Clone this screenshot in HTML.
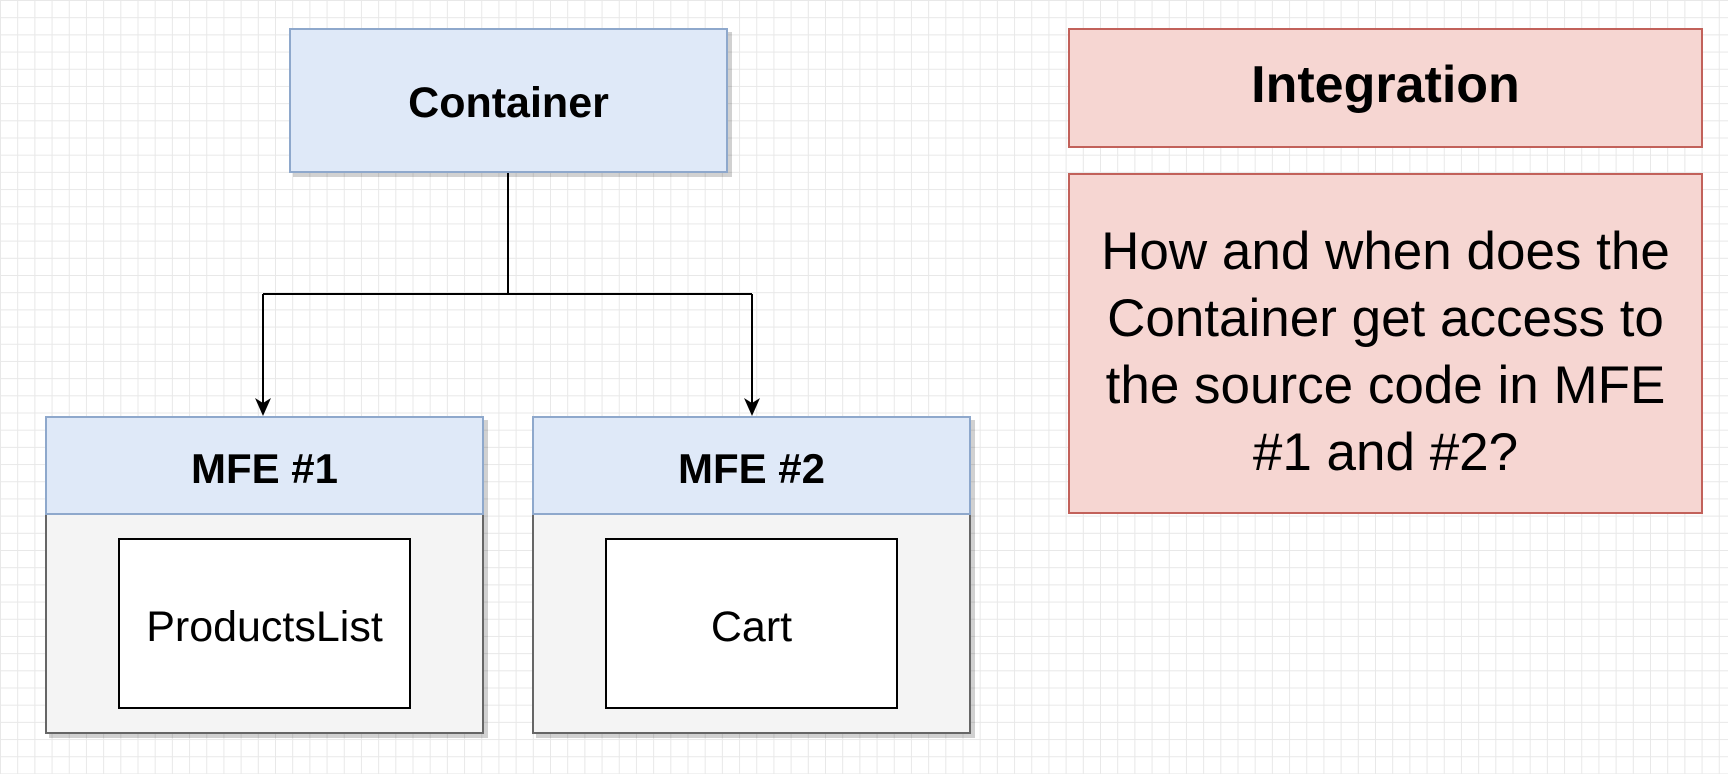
<!DOCTYPE html>
<html><head><style>
body{margin:0;width:1728px;height:774px;overflow:hidden;background:#fff;
background-image:linear-gradient(#e8e8e8 1px,transparent 1px),linear-gradient(90deg,#e8e8e8 1px,transparent 1px);
background-size:17.2px 17.2px;font-family:"Liberation Sans",sans-serif;position:relative}
.b{position:absolute;box-sizing:border-box;display:flex;align-items:center;justify-content:center;text-align:center;color:#000}
.blue{background:#dfe9f8;border:2px solid #8ea8cc;box-shadow:4px 4px 0 rgba(0,0,0,.18)}
.gray{background:#f4f4f4;border:2px solid #666;box-shadow:4px 4px 0 rgba(0,0,0,.18)}
.red{background:#f6d6d2;border:2px solid #c2615a}
.w{background:#fff;border:2px solid #000;font-size:43px;padding-top:8px}
</style></head><body>
<div class="b blue" style="left:289px;top:28px;width:439px;height:145px;font-weight:bold;font-size:43px;padding-top:6px">Container</div>
<svg style="position:absolute;left:0;top:0" width="1728" height="774">
<path d="M508 173V294M263 294H752M263 294V405M752 294V405" stroke="#000" stroke-width="2" fill="none"/>
<path d="M255 398L263 416L271 398L263 403Z M744 398L752 416L760 398L752 403Z" fill="#000"/>
</svg>
<div class="b gray" style="left:45px;top:416px;width:439px;height:318px"></div>
<div class="b blue" style="left:45px;top:416px;width:439px;height:99px;box-shadow:none;font-weight:bold;font-size:42px;padding-top:6px">MFE #1</div>
<div class="b w" style="left:118px;top:538px;width:293px;height:171px">ProductsList</div>
<div class="b gray" style="left:532px;top:416px;width:439px;height:318px"></div>
<div class="b blue" style="left:532px;top:416px;width:439px;height:99px;box-shadow:none;font-weight:bold;font-size:42px;padding-top:6px">MFE #2</div>
<div class="b w" style="left:605px;top:538px;width:293px;height:171px">Cart</div>
<div class="b red" style="left:1068px;top:28px;width:635px;height:120px;font-weight:bold;font-size:52px;padding-bottom:6px">Integration</div>
<div class="b red" style="left:1068px;top:173px;width:635px;height:341px;font-size:53px;line-height:67px;padding-top:16px">How and when does the<br>Container get access to<br>the source code in MFE<br>#1 and #2?</div>
</body></html>
